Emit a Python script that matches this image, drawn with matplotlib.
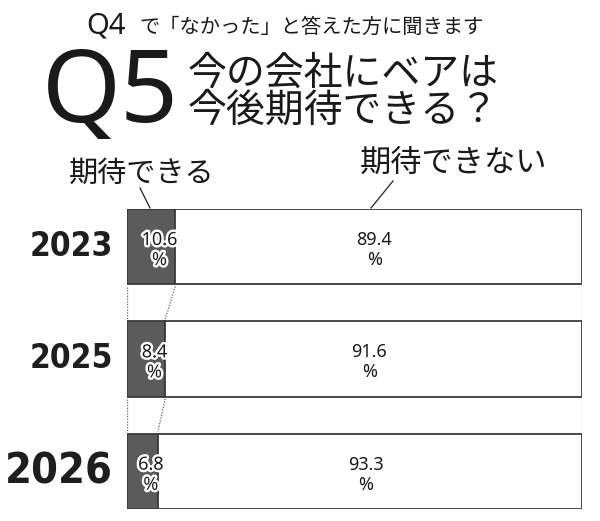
import matplotlib
matplotlib.use("Agg")
import matplotlib.pyplot as plt
import matplotlib.patheffects as pe

plt.rcParams['font.family'] = ['Noto Sans CJK JP', 'DejaVu Sans']

# data
years = ["2023", "2025", "2026"]
can_expect = [10.6, 8.4, 6.8]
cannot_expect = [89.4, 91.6, 93.3]
series_labels = ["期待できる", "期待できない"]

W, H = 600, 521
fig = plt.figure(figsize=(W / 100, H / 100), dpi=100)
fig.patch.set_facecolor("white")

latin = ["Noto Sans", "DejaVu Sans"]


def fy(py):
    # pixel row from top -> figure fraction
    return 1 - py / H


# heading
fig.text(86 / W, fy(33), "Q4", fontsize=21, family=latin,
         color="#1a1a1a", va="baseline", ha="left")
fig.text(139 / W, fy(33), "で「なかった」と答えた方に聞きます", fontsize=14.6,
         color="#1a1a1a", va="baseline", ha="left")
fig.text(42 / W, fy(122), "Q5", fontsize=73, family=latin,
         color="#1a1a1a", va="baseline", ha="left")
fig.text(188 / W, fy(122), "今の会社にベアは\n今後期待できる？", fontsize=28,
         color="#1a1a1a", va="baseline", ha="left", linespacing=0.92)

# series labels with leader lines
fig.text(69 / W, fy(182), series_labels[0], fontsize=21,
         color="#1a1a1a", va="baseline", ha="left")
fig.text(360 / W, fy(172), series_labels[1], fontsize=22.5,
         color="#1a1a1a", va="baseline", ha="left")
for (x0, y0), (x1, y1) in [((140, 188), (150, 208)), ((393, 181), (371, 208))]:
    fig.add_artist(plt.Line2D([x0 / W, x1 / W], [fy(y0), fy(y1)],
                              transform=fig.transFigure, color="#222222", lw=0.9))

# bars
ax = fig.add_axes([127 / W, fy(509), 455 / W, 300 / H])
h = 0.67
ys = list(range(len(years)))
edge = "#3a3a3a"
ax.barh(ys, can_expect, height=h, color="#5b5b5b", edgecolor=edge, linewidth=1.3)
ax.barh(ys, cannot_expect, left=can_expect, height=h, color="white",
        edgecolor=edge, linewidth=1.3)
ax.set_xlim(0, 100)
ax.set_ylim(len(years) - 1 + h / 2, -h / 2)
ax.axis("off")

# dotted connectors between bars
for i in range(len(years) - 1):
    y_a, y_b = i + h / 2 + 0.02, i + 1 - h / 2 - 0.02
    for xa, xb in [(0, 0), (can_expect[i], can_expect[i + 1]), (100, 100)]:
        ax.plot([xa, xb], [y_a, y_b], ls=(0, (1, 1.2)), color="#666666", lw=0.9)

# year labels
for i, yr in enumerate(years):
    big = i == len(years) - 1
    ax.annotate(yr, xy=(0, i), xytext=(-10, 0), textcoords="offset points",
                ha="right", va="center", fontsize=31 if big else 24,
                fontweight="bold", fontstretch="condensed", color="#1e1e1e",
                family=["DejaVu Sans"])

# value labels
for i in ys:
    ax.annotate(f"{can_expect[i]}\n%", xy=(can_expect[i] / 2, i + 0.03),
                xytext=(6, 0), textcoords="offset points",
                ha="center", va="center", fontsize=13, color="#1a1a1a",
                family=latin, linespacing=1.15,
                path_effects=[pe.withStroke(linewidth=3.5, foreground="white")])
    ax.annotate(f"{cannot_expect[i]}\n%",
                xy=(can_expect[i] + cannot_expect[i] / 2, i + 0.03),
                xytext=(-3, 0), textcoords="offset points",
                ha="center", va="center", fontsize=13, color="#1a1a1a",
                family=latin, linespacing=1.15)

fig.savefig("out.png", dpi=100, facecolor="white")
